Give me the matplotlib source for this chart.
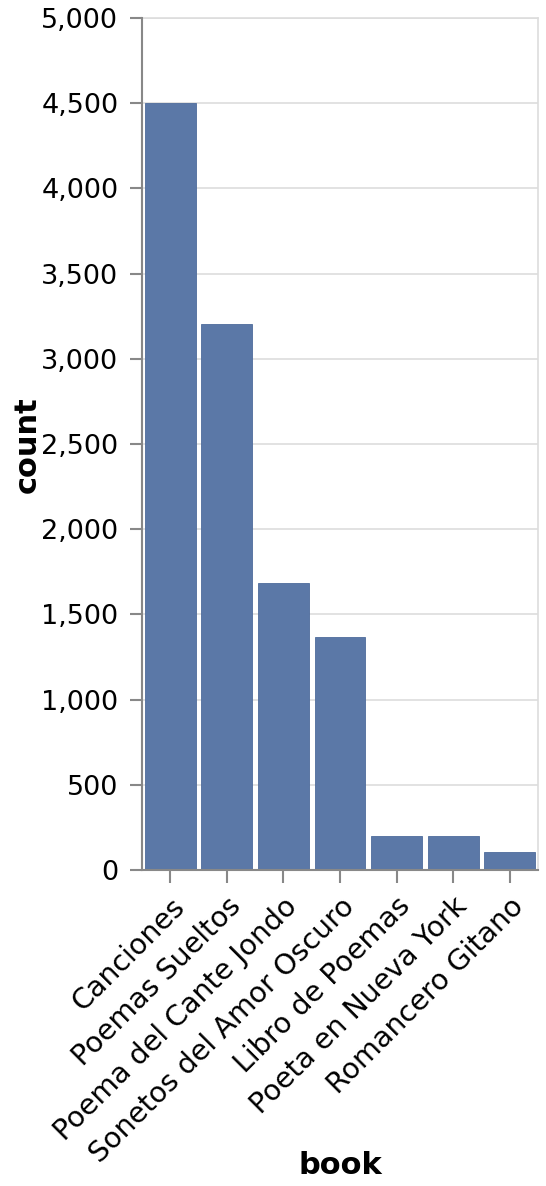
import numpy as np
import matplotlib.pyplot as plt
from matplotlib.ticker import FuncFormatter

books = ["Canciones", "Poemas Sueltos", "Poema del Cante Jondo",
         "Sonetos del Amor Oscuro", "Libro de Poemas",
         "Poeta en Nueva York", "Romancero Gitano"]
counts = [4500, 3205, 1685, 1370, 197, 197, 108]

plt.rcParams['font.family'] = ['DejaVu Sans']

W, H = 546, 1186
fig = plt.figure(figsize=(W / 100, H / 100), dpi=100)
ax = fig.add_axes([142 / W, 1 - 870 / H, 396 / W, 852 / H])

x = np.arange(len(books))
ax.bar(x, counts, width=0.9, color="#5b78a7", edgecolor="#4e6c9c",
       linewidth=0.6, zorder=2)

ax.set_xlim(-0.5, len(books) - 0.5)
ax.set_ylim(0, 5000)
ax.set_yticks(np.arange(0, 5001, 500))
ax.yaxis.set_major_formatter(FuncFormatter(lambda v, p: f"{int(v):,}"))
ax.grid(axis='y', color="#dddddd", linewidth=1.2, zorder=0)
ax.set_axisbelow(True)

for side in ['top', 'right']:
    ax.spines[side].set_color("#dddddd")
    ax.spines[side].set_linewidth(1.2)
for side in ['left', 'bottom']:
    ax.spines[side].set_color("#888888")
    ax.spines[side].set_linewidth(1.5)
    ax.spines[side].set_zorder(3)

ax.set_xticks(x)
ax.set_xticklabels(books, rotation=45, ha='right', va='top',
                   rotation_mode='anchor')
ax.tick_params(axis='both', colors="#888888", length=9, width=1.5,
               labelcolor='black')
ax.tick_params(axis='y', pad=8, labelsize=19.5)
ax.tick_params(axis='x', pad=7, labelsize=20.5)

# axis titles placed in figure pixels
fig.text(27 / W, 1 - 445 / H, "count", rotation=90, fontsize=22,
         fontweight='bold', ha='center', va='center')
fig.text(340 / W, 1 - 1165 / H, "book", fontsize=22,
         fontweight='bold', ha='center', va='center')

fig.savefig("out.png", dpi=100)
